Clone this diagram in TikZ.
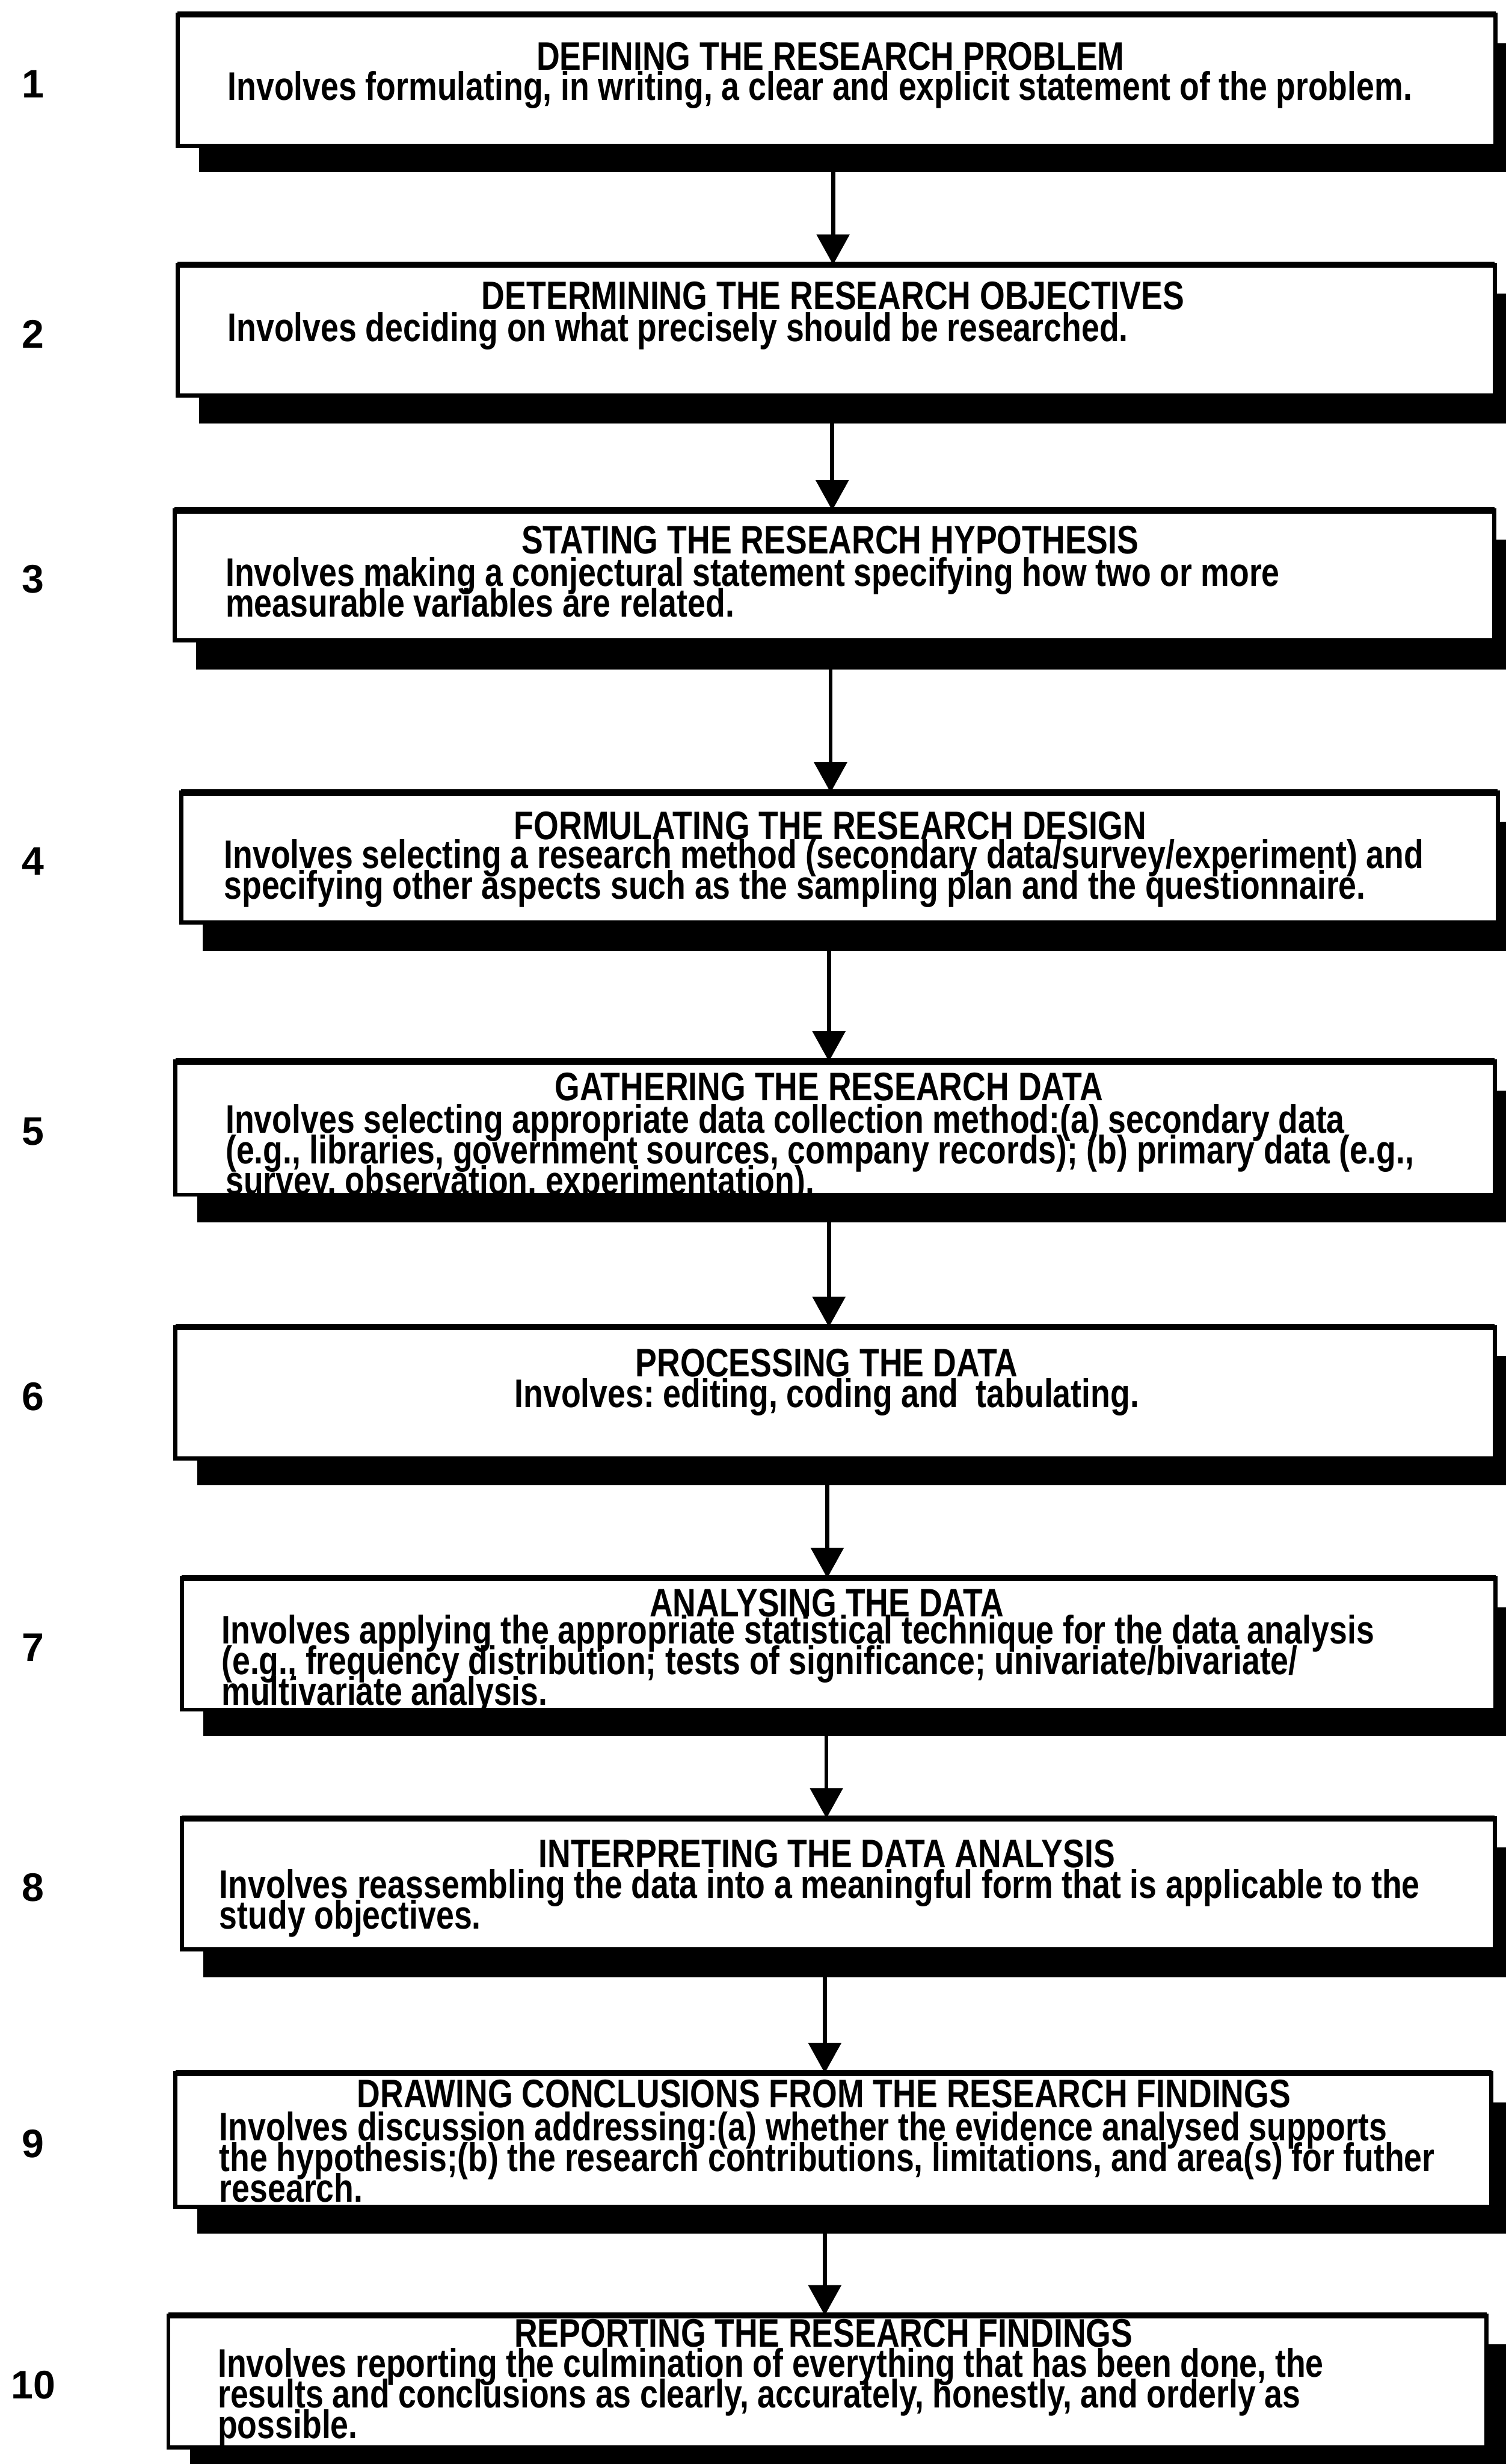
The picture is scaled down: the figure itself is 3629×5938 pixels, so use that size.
\documentclass[tikz,border=0pt]{standalone}
\usepackage{fontspec}
\setmainfont{Liberation Sans}
\newfontfamily\stepfont{Liberation Sans}[FakeStretch=0.81]
\newfontfamily\numfont{Liberation Sans}
\usetikzlibrary{arrows.meta}

\begin{document}
\begin{tikzpicture}[x=0.01cm, y=-0.01cm,
  shadowbar/.style={fill=black, draw=none, inner sep=0pt, outer sep=0pt},
  stepbox/.style={draw=black, fill=white, line width=2.8pt, inner sep=0pt, outer sep=0pt},
  txt/.style={inner sep=0pt, outer sep=0pt,
    font={\stepfont\bfseries\fontsize{27.3pt}{21.05pt}\selectfont\lineskiplimit=-100pt}},
  heading/.style={txt, anchor=base},
  tightspace/.style={execute at begin node={\spaceskip=6pt\relax\xspaceskip=6pt\relax}},
  bodytext/.style={txt, tightspace, anchor=base west, text width=31cm, align=left},
  bodycentre/.style={txt, tightspace, anchor=base},
  stepno/.style={inner sep=0pt, anchor=center,
    font={\numfont\bfseries\fontsize{27.3pt}{27.3pt}\selectfont}},
  flow/.style={line width=2.8pt, -{Triangle[width=22.2pt, length=20.8pt]}}
]
\useasboundingbox (0,0) rectangle (3629,5938);

% steps: left / right / top / bottom / shadow bottom / number
\foreach \l/\r/\t/\b/\sb/\n in {
  428/3605/35/352/415/1,
  428/3603/638/953/1020/2,
  421/3602/1230/1543/1614/3,
  437/3610/1910/2223/2292/4,
  423/3603/2558/2879/2946/5,
  423/3603/3198/3515/3580/6,
  438/3605/3803/4120/4184/7,
  438/3603/4382/4698/4765/8,
  423/3595/4996/5318/5382/9,
  406/3583/5580/5898/5990/10}{
  % drop shadow running off the right edge
  \node[shadowbar, minimum width={(3660-\l-52)*0.01cm}, minimum height={(\sb-\t-70)*0.01cm}]
    (s\n) at ({(3660+\l+52)/2},{(\sb+\t+70)/2}) {};
  % the white step box with a heavier top rule
  \node[stepbox, minimum width={(\r-\l)*0.01cm}, minimum height={(\b-\t)*0.01cm}]
    (b\n) at ({(\l+\r)/2},{(\t+\b)/2}) {};
  \draw[line width=4.2pt] (b\n.north west) -- (b\n.north east);
  % step number in the left margin
  \node[stepno] (n\n) at (80,{(\t+\b)/2+9}) {\n};
}

% vertical positions of the connecting arrows
\coordinate (x1) at (2008,0);
\coordinate (x2) at (2006,0);
\coordinate (x3) at (2002,0);
\coordinate (x4) at (1998,0);
\coordinate (x5) at (1998,0);
\coordinate (x6) at (1994,0);
\coordinate (x7) at (1992,0);
\coordinate (x8) at (1988,0);
\coordinate (x9) at (1988,0);
\foreach \i [evaluate=\i as \j using int(\i+1)] in {1,...,9}{
  \draw[flow] (s\i.south -| x\i) -- (b\j.north -| x\i);
}

% step texts
\node[heading] (h1) at (2002,169) {DEFINING THE RESEARCH PROBLEM};
\node[bodytext] (d1) at (549,242) {Involves formulating, in writing, a clear and explicit statement of the problem.};

\node[heading] (h2) at (2008,746) {DETERMINING THE RESEARCH OBJECTIVES};
\node[bodytext] (d2) at (549,823) {Involves deciding on what precisely should be researched.};

\node[heading] (h3) at (2001,1335) {STATING THE RESEARCH HYPOTHESIS};
\node[bodytext] (d3) at (544,1413) {Involves making a conjectural statement specifying how two or more\\
measurable variables are related.};

\node[heading] (h4) at (2001,2023) {FORMULATING THE RESEARCH DESIGN};
\node[bodytext] (d4) at (540,2092) {Involves selecting a research method (secondary data/survey/experiment) and\\
specifying other aspects such as the sampling plan and the questionnaire.};

\node[heading] (h5) at (1998,2652) {GATHERING THE RESEARCH DATA};
\node[bodytext] (d5) at (544,2730) {Involves selecting appropriate data collection method:(a) secondary data\\
(e.g., libraries, government sources, company records); (b) primary data (e.g.,\\
survey, observation, experimentation).};

\node[heading] (h6) at (1993,3318) {PROCESSING THE DATA};
\node[bodycentre] (d6) at (1993,3392) {Involves: editing, coding and\ \ tabulating.};

\node[heading] (h7) at (1993,3896) {ANALYSING THE DATA};
\node[bodytext] (d7) at (534,3961) {Involves applying the appropriate statistical technique for the data analysis\\
(e.g., frequency distribution; tests of significance; univariate/bivariate/\\
multivariate analysis.};

\node[heading] (h8) at (1993,4500) {INTERPRETING THE DATA ANALYSIS};
\node[bodytext] (d8) at (529,4575) {Involves reassembling the data into a meaningful form that is applicable to the\\
study objectives.};

\node[heading] (h9) at (1986,5079) {DRAWING CONCLUSIONS FROM THE RESEARCH FINDINGS};
\node[bodytext] (d9) at (529,5158) {Involves discussion addressing:(a) whether the evidence analysed supports\\
the hypothesis;(b) the research contributions, limitations, and area(s) for futher\\
research.};

\node[heading] (h10) at (1985,5656) {REPORTING THE RESEARCH FINDINGS};
\node[bodytext] (d10) at (525,5728) {Involves reporting the culmination of everything that has been done, the\\
results and conclusions as clearly, accurately, honestly, and orderly as\\
possible.};
\end{tikzpicture}
\end{document}
